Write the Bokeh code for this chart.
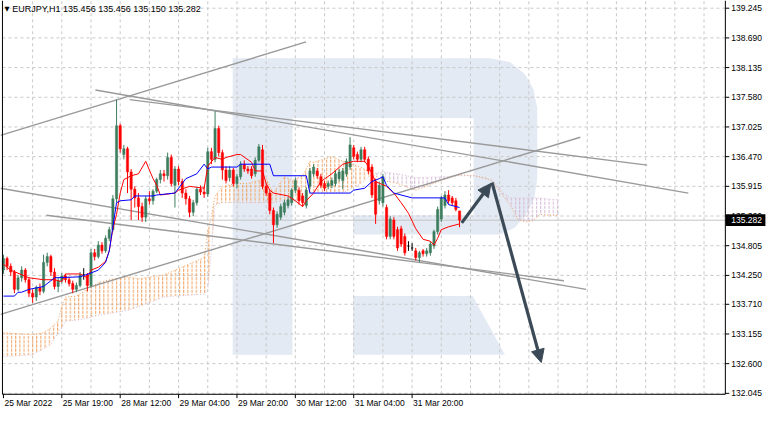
import numpy as np
from bokeh.plotting import figure
from bokeh.models import Arrow, NormalHead, ColumnDataSource
from bokeh.core.properties import value
from bokeh.embed import file_html
from bokeh.resources import INLINE

# ---------------- data (EURJPY H1) ----------------
open_ = [134.349, 134.565, 134.421, 134.313, 133.989, 134.205, 134.349, 134.169, 133.917, 133.845,
         134.025, 133.953, 134.493, 134.601, 134.313, 134.043, 134.151, 134.241, 134.169, 134.097,
         133.989, 134.061, 134.259, 134.259, 134.061, 134.673, 134.601, 134.817, 134.709, 134.943,
         135.105, 135.681, 137.049, 136.509, 136.617, 136.185, 135.861, 135.699, 135.537, 135.339,
         135.681, 135.645, 135.825, 136.041, 136.149, 136.113, 136.455, 135.933, 136.239, 136.005,
         135.789, 135.681, 135.429, 135.609, 135.861, 135.807, 135.771, 136.563, 136.419, 136.995,
         136.545, 136.221, 136.077, 136.221, 135.969, 136.095, 136.329, 136.239, 136.239, 136.149,
         136.401, 136.599, 135.915, 135.789, 135.465, 135.195, 135.339, 135.429, 135.555, 135.609,
         135.843, 135.843, 135.735, 135.555, 135.915, 136.149, 136.203, 136.095, 135.969, 135.915,
         135.933, 135.969, 136.059, 136.023, 136.149, 136.275, 136.635, 136.509, 136.419, 136.599,
         136.419, 136.275, 136.005, 135.645, 135.609, 135.519, 134.979, 135.285, 135.105, 135.123,
         134.979, 134.799, 134.763, 134.709, 134.583, 134.709, 134.655, 134.673, 134.799, 135.069,
         135.303, 135.555, 135.753, 135.699, 135.645, 135.456]
close = [134.565, 134.421, 134.313, 133.989, 134.205, 134.349, 134.169, 133.917, 133.845, 134.025,
         133.953, 134.493, 134.601, 134.313, 134.043, 134.151, 134.241, 134.169, 134.097, 133.989,
         134.061, 134.259, 134.259, 134.061, 134.673, 134.601, 134.817, 134.709, 134.943, 135.105,
         135.681, 137.049, 136.617, 136.617, 136.185, 135.861, 135.699, 135.537, 135.339, 135.681,
         135.645, 135.825, 136.041, 136.149, 136.113, 136.455, 135.969, 136.239, 136.005, 135.789,
         135.681, 135.429, 135.609, 135.861, 135.807, 135.771, 136.563, 136.419, 136.995, 136.545,
         136.221, 136.023, 136.221, 135.969, 136.095, 136.329, 136.239, 136.203, 136.113, 136.401,
         136.653, 135.915, 135.789, 135.465, 135.195, 135.393, 135.537, 135.609, 135.663, 135.843,
         136.023, 135.645, 135.609, 135.843, 136.203, 136.275, 136.113, 135.933, 135.879, 135.969,
         136.023, 136.149, 136.185, 136.203, 136.383, 136.689, 136.473, 136.419, 136.599, 136.419,
         136.203, 135.753, 135.393, 135.933, 136.095, 134.979, 135.303, 134.979, 134.763, 134.835,
         134.673, 134.799, 134.763, 134.583, 134.673, 134.655, 134.709, 134.835, 135.069, 135.483,
         135.699, 135.753, 135.645, 135.609, 135.483, 135.282]
high = [134.637, 134.601, 134.475, 134.349, 134.259, 134.421, 134.385, 134.205, 133.989, 134.061,
        134.097, 134.637, 134.673, 134.637, 134.385, 134.205, 134.295, 134.277, 134.223, 134.151,
        134.115, 134.313, 134.385, 134.295, 134.745, 134.745, 134.889, 134.871, 134.997, 135.159,
        135.753, 137.535, 137.085, 136.689, 136.653, 136.239, 135.915, 135.789, 135.609, 135.735,
        135.825, 135.861, 136.077, 136.221, 136.221, 136.545, 136.509, 136.293, 136.293, 136.059,
        135.861, 135.735, 135.663, 135.897, 135.933, 135.915, 136.635, 136.635, 137.319, 137.049,
        136.599, 136.293, 136.293, 136.257, 136.149, 136.383, 136.401, 136.293, 136.293, 136.455,
        136.707, 136.689, 135.969, 135.843, 135.519, 135.447, 135.591, 135.663, 135.717, 135.879,
        136.077, 135.897, 135.789, 135.897, 136.257, 136.329, 136.257, 136.149, 136.023, 136.023,
        136.077, 136.203, 136.239, 136.257, 136.437, 136.833, 136.689, 136.563, 136.653, 136.653,
        136.473, 136.329, 136.059, 136.005, 136.149, 135.573, 135.357, 135.339, 135.159, 135.177,
        135.033, 134.889, 134.853, 134.763, 134.709, 134.745, 134.763, 134.889, 135.105, 135.537,
        135.735, 135.825, 135.843, 135.735, 135.699, 135.456]
low = [134.277, 134.349, 134.241, 133.917, 133.953, 134.133, 134.115, 133.845, 133.737, 133.773,
       133.881, 133.917, 134.421, 134.241, 133.989, 133.935, 134.097, 134.115, 134.043, 133.917,
       133.935, 134.025, 134.169, 133.953, 134.025, 134.529, 134.565, 134.655, 134.673, 134.889,
       135.069, 135.609, 136.545, 136.419, 135.789, 135.285, 135.519, 135.285, 135.249, 135.249,
       135.573, 135.573, 135.789, 135.969, 136.005, 136.041, 135.915, 135.519, 135.933, 135.699,
       135.573, 135.339, 135.357, 135.555, 135.753, 135.699, 135.717, 136.329, 136.365, 136.473,
       136.041, 135.969, 136.005, 135.915, 135.879, 136.041, 136.185, 136.149, 136.059, 136.095,
       136.365, 135.861, 135.735, 135.393, 134.853, 135.141, 135.285, 135.375, 135.501, 135.555,
       135.789, 135.573, 135.537, 135.501, 135.861, 136.095, 136.059, 135.879, 135.825, 135.861,
       135.879, 135.915, 136.005, 135.861, 136.095, 136.221, 136.419, 136.365, 136.365, 136.365,
       136.149, 135.699, 135.213, 135.573, 135.537, 134.925, 134.925, 134.925, 134.709, 134.781,
       134.619, 134.709, 134.709, 134.529, 134.493, 134.601, 134.601, 134.619, 134.745, 135.015,
       135.249, 135.501, 135.591, 135.555, 135.447, 135.150]

# Ichimoku lines (bar index, price)
tenkan_idx = [0, 2, 7, 11, 14, 16, 17, 21, 23, 24, 26, 28, 29, 30, 31, 32, 33, 35, 37, 39,
              41, 42, 43, 47, 48, 51, 53, 55, 56, 58, 60, 61, 64, 65, 68, 69, 71, 72, 73, 74,
              78, 80, 82, 83, 85, 87, 90, 93, 96, 99, 100, 102, 105, 107, 109, 111, 113, 115, 117, 118,
              119, 120, 122, 125]
tenkan_val = [134.457, 134.349, 134.205, 134.169, 134.169, 134.133, 134.277, 134.277, 134.205, 134.349,
              134.403, 134.511, 134.709, 135.123, 135.393, 135.789, 136.041, 136.113, 136.149, 136.383,
              136.059, 135.933, 135.753, 135.789, 135.843, 135.915, 135.897, 135.879, 136.293, 136.455,
              136.419, 136.455, 136.509, 136.509, 136.365, 136.203, 136.203, 135.969, 135.843, 135.789,
              135.735, 135.645, 135.537, 135.645, 135.789, 136.005, 136.149, 136.329, 136.383, 136.383,
              136.293, 136.005, 135.915, 135.789, 135.609, 135.411, 135.123, 134.925, 134.889, 134.817,
              134.943, 135.105, 135.159, 135.213]
kijun_idx = [0, 3, 4, 5, 7, 11, 14, 21, 24, 26, 28, 29, 30, 31, 32, 35, 36, 41, 42, 47,
             48, 50, 53, 55, 56, 57, 64, 65, 73, 74, 83, 84, 95, 96, 99, 101, 103, 104, 105, 107,
             112, 121, 122, 125]
kijun_val = [133.863, 133.863, 133.935, 133.935, 133.989, 134.043, 134.205, 134.223, 134.295, 134.349,
             134.493, 134.709, 135.159, 135.609, 135.645, 135.663, 135.735, 135.735, 135.753, 135.789,
             135.879, 136.059, 136.149, 136.329, 136.239, 136.275, 136.275, 136.329, 136.329, 136.113,
             136.113, 135.789, 135.789, 135.843, 135.879, 136.005, 136.059, 136.095, 135.933, 135.789,
             135.699, 135.699, 135.573, 135.519]
cloud_idx = [0, 8, 11, 13, 15, 16, 17, 20, 23, 26, 29, 34, 37, 44, 47, 55, 56, 57, 58, 60,
             64, 67, 72, 74, 77, 79, 82, 84, 85, 90, 93, 94, 98, 101, 104, 108, 113, 120, 125, 129,
             132, 134, 135, 137, 139, 141, 143, 145, 147, 149, 152]
span_a = [133.179, 133.143, 133.179, 133.269, 133.395, 133.683, 133.845, 133.863, 133.989, 134.115,
          134.169, 134.223, 134.187, 134.259, 134.349, 134.583, 135.069, 135.375, 135.735, 135.915,
          135.969, 135.969, 136.059, 135.789, 136.095, 136.023, 136.113, 136.383, 136.365, 136.473,
          136.383, 136.365, 136.275, 136.149, 136.023, 135.969, 135.843, 136.023, 136.131, 136.113,
          136.077, 136.023, 135.915, 135.735, 135.555, 135.303, 135.249, 135.267, 135.393, 135.375,
          135.375]
span_b = [132.729, 132.765, 132.873, 132.963, 133.179, 133.269, 133.395, 133.413, 133.449, 133.503,
          133.539, 133.593, 133.665, 133.845, 133.863, 133.899, 133.989, 134.709, 135.573, 135.609,
          135.609, 135.609, 135.609, 135.609, 135.645, 135.645, 135.663, 135.789, 135.789, 135.789,
          135.807, 135.825, 135.969, 136.149, 136.185, 136.149, 136.077, 136.095, 136.113, 136.113,
          136.059, 136.023, 135.969, 135.789, 135.699, 135.699, 135.699, 135.699, 135.699, 135.681,
          135.663]

# trend lines: (start bar, start price, end bar, end price)
trend_lines = [(-0.8, 136.869, 82.95, 138.615),
               (25.2, 137.715, 187.7, 135.789),
               (34.6, 137.535, 176.4, 136.311),
               (-0.8, 135.879, 159.7, 133.989),
               (11.8, 135.375, 153.6, 134.151),
               (-0.8, 133.521, 158.1, 136.833)]
# forecast arrows
forecast_arrows = [(125.6, 135.231, 133.6, 135.969),
                   (133.9, 135.987, 147.4, 132.621)]

y_ticks = [132.045, 132.600, 133.155, 133.710, 134.250, 134.805, 135.360,
           135.915, 136.470, 137.025, 137.580, 138.135, 138.690, 139.245]
x_tick_bars = [0, 16, 32, 48, 64, 80, 96, 112]
x_tick_labels = ["25 Mar 2022", "25 Mar 19:00", "28 Mar 12:00", "29 Mar 04:00",
                 "29 Mar 20:00", "30 Mar 12:00", "31 Mar 04:00", "31 Mar 20:00"]
last_price = 135.282
title_text = "EURJPY,H1  135.456 135.456 135.150 135.282"

# watermark logo outline, in reference pixel positions of the chart window
logo_polys = [
    [(237, 60), (500, 60), (520, 64), (535, 76), (544, 92), (548, 112), (548, 185),
     (545, 205), (537, 222), (525, 236), (510, 243), (360, 243), (360, 223), (483, 223),
     (483, 122), (298, 122), (298, 368), (237, 368)],
    [(360, 307), (482, 307), (515, 368), (360, 368)],
]


# ---------------- window geometry (bar index / price of the MT window) ----------------
def px2bar(px):
    return (px - 3) / 3.725


def py2price(py):
    return 139.389 - py / 55.56


WX0, WX1 = px2bar(0), px2bar(782)      # whole window
WY0, WY1 = py2price(430), py2price(0)
CL, CR = px2bar(2), px2bar(740)        # chart area borders
CB, CT = py2price(409), WY1
TICK_X = 4 / 3.725
TICK_Y = 4 / 55.56

FONT = "Liberation Sans"
p = figure(width=766, height=414, x_range=(WX0, WX1), y_range=(WY0, WY1),
           output_backend="svg", toolbar_location=None,
           x_axis_location=None, y_axis_location=None,
           min_border_left=0, min_border_right=0, min_border_top=0, min_border_bottom=0)
p.background_fill_color = "white"
p.border_fill_color = "white"
p.outline_line_color = None
p.xgrid.visible = False
p.ygrid.visible = False

# watermark
p.patches([[px2bar(a) for a, b in poly] for poly in logo_polys],
          [[py2price(b) for a, b in poly] for poly in logo_polys],
          fill_color="#e4eaf3", line_color=None)

# grid
vgrid = list(range(8, 200, 8))
p.segment(x0=vgrid, y0=[CB] * len(vgrid), x1=vgrid, y1=[CT] * len(vgrid),
          line_color="#c8c8c8", line_dash="3 3", line_width=1)
p.segment(x0=[CL] * len(y_ticks), y0=y_ticks, x1=[CR] * len(y_ticks), y1=y_ticks,
          line_color="#c8c8c8", line_dash="3 3", line_width=1)

# bid line
p.segment(x0=[CL], y0=[last_price], x1=[CR], y1=[last_price], line_color="#c4c4c4", line_width=1)

# cloud
ca = np.array(span_a)
cb = np.array(span_b)
top = np.maximum(ca, cb)
p.varea(x=cloud_idx, y1=cb, y2=top, fill_alpha=0, hatch_pattern=":",
        hatch_color="#F2A05C", hatch_scale=4.2, hatch_weight=1)
p.varea(x=cloud_idx, y1=ca, y2=top, fill_alpha=0, hatch_pattern=":",
        hatch_color="#D3B5D3", hatch_scale=4.2, hatch_weight=1)
p.line(cloud_idx, span_a, line_color="#F4A460", line_dash="1 2", line_width=1)
p.line(cloud_idx, span_b, line_color="#D8BFD8", line_dash="1 2", line_width=1)

# trend lines
for x0, y0, x1, y1 in trend_lines:
    p.line([x0, x1], [y0, y1], line_color="#9a9a9a", line_width=1.4)

# candles
o = np.array(open_)
c = np.array(close)
h = np.array(high)
l = np.array(low)
idx = np.arange(len(c))
colors = np.where(c > o, "#3c7d5e", np.where(c < o, "#ff0000", "#000000"))
src = ColumnDataSource(dict(x=idx, o=o, c=c, h=h, l=l,
                            top=np.maximum(o, c), bot=np.minimum(o, c), col=colors))
p.segment(x0="x", y0="l", x1="x", y1="h", color="col", line_width=1, source=src)
p.vbar(x="x", top="top", bottom="bot", width=0.62, fill_color="col", line_color="col",
       line_width=0.5, source=src)

# Ichimoku tenkan / kijun
p.line(tenkan_idx, tenkan_val, line_color="#ff0000", line_width=1)
p.line(kijun_idx, kijun_val, line_color="#0000ff", line_width=1)

# forecast arrows
ac = "#3b4a56"
for x0, y0, x1, y1 in forecast_arrows:
    p.add_layout(Arrow(end=NormalHead(size=13, fill_color=ac, line_color=ac, line_width=1),
                       x_start=x0, y_start=y0, x_end=x1, y_end=y1,
                       line_color=ac, line_width=3.2))

# blank the area outside the chart (right scale and bottom scale)
p.quad(left=[CR, WX0], right=[WX1, WX1], bottom=[WY0, WY0], top=[WY1, CB],
       fill_color="white", line_color=None)

# chart borders
p.segment(x0=[CL, CR, CL], y0=[CB, CB, CB], x1=[CL, CR, CR], y1=[CT, CT, CB],
          line_color="black", line_width=1)

# price scale (right)
p.segment(x0=[CR] * len(y_ticks), y0=y_ticks, x1=[CR + TICK_X] * len(y_ticks), y1=y_ticks,
          line_color="black", line_width=1)
p.text(x=[CR + 1.5 * TICK_X] * len(y_ticks), y=y_ticks, text=[f"{v:.3f}" for v in y_ticks],
       text_font=value(FONT), text_font_size="8.5px", text_color="black",
       text_align="left", text_baseline="middle")

# time scale (bottom)
p.segment(x0=x_tick_bars, y0=[CB] * len(x_tick_bars), x1=x_tick_bars,
          y1=[CB - TICK_Y] * len(x_tick_bars), line_color="black", line_width=1)
p.text(x=x_tick_bars, y=[CB - TICK_Y] * len(x_tick_bars), text=x_tick_labels,
       text_font=value(FONT), text_font_size="8.5px", text_color="black",
       text_align="left", text_baseline="top", x_offset=1)

# current price tag
p.quad(left=[CR + 0.1], right=[WX1 - 0.3], bottom=[last_price - 0.11], top=[last_price + 0.11],
       fill_color="black", line_color=None)
p.text(x=[CR + 1.5 * TICK_X], y=[last_price], text=[f"{last_price:.3f}"],
       text_font=value(FONT), text_font_size="8.5px", text_color="white",
       text_align="left", text_baseline="middle")

# title
p.text(x=[px2bar(4)], y=[py2price(9)], text=["\u25BC"], text_font=value("DejaVu Sans"),
       text_font_size="6.5px", text_color="black", text_align="left", text_baseline="middle")
p.text(x=[px2bar(12)], y=[py2price(9)], text=[title_text], text_font=value(FONT),
       text_font_size="9px", text_color="black", text_align="left", text_baseline="middle")

open("out.html", "w").write(file_html(p, INLINE))
